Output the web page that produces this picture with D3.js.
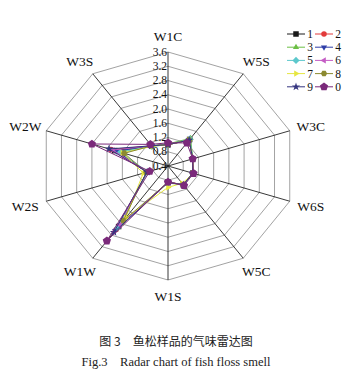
<!DOCTYPE html>
<html><head><meta charset="utf-8">
<script src="https://cdn.jsdelivr.net/npm/d3@7"></script>
<style>
html,body{margin:0;padding:0;background:#fff;}
svg{display:block;}
</style></head>
<body>
<svg id="c" width="361" height="387"></svg>
<script>
const axes = ["W1C","W5S","W3C","W6S","W5C","W1S","W1W","W2S","W2W","W3S"];
const tickValues = [0.4,0.8,1.2,1.6,2.0,2.4,2.8,3.2,3.6];
const seriesNames = ["1","2","3","4","5","6","7","8","9","0"];
const s1 = [1.00,1.32,1.05,1.05,1.05,0.85,2.50,0.95,1.80,1.10];
const s2 = [1.00,1.30,1.05,1.05,1.05,0.85,2.60,0.95,1.90,1.10];
const s3 = [1.02,1.36,1.05,1.05,1.05,0.88,2.40,0.95,1.70,1.10];
const s4 = [1.00,1.30,1.05,1.05,1.05,0.86,2.65,0.95,1.75,1.10];
const s5 = [1.00,1.33,1.05,1.05,1.08,0.85,2.55,0.93,1.65,1.08];
const s6 = [1.00,1.30,1.05,1.05,1.05,0.86,2.45,0.95,1.85,1.10];
const s7 = [1.00,1.30,1.05,1.07,1.00,1.00,2.20,1.05,1.60,1.08];
const s8 = [1.00,1.30,1.05,1.05,1.05,0.86,2.30,0.97,1.55,1.10];
const s9 = [1.00,1.30,1.05,1.05,1.05,0.86,2.70,0.95,1.95,1.10];
const s0 = [1.05,1.20,1.05,1.07,1.08,0.85,3.00,0.88,2.40,1.15];
const seriesValues = [s1,s2,s3,s4,s5,s6,s7,s8,s9,s0];
const colors = ["#1a1a1a","#e23b3b","#6cbf45","#2f3fa8","#5cc8cc","#c45cc4","#e6e640","#8c8a30","#35357f","#7b2a7b"];
const shapes = ["square","circle","up","down","diamond","left","right","hexagon","star","pentagon"];

const svg = d3.select("#c");
const cx = 168, cy = 166, Rx = 128, Ry = 114;
const r = d3.scaleLinear().domain([0.4,3.6]).range([0,1]);
const ang = d3.scaleLinear().domain([0, axes.length]).range([0, 2*Math.PI]);
function pt(i, v){ const a = ang(i), t = r(v); return [cx + Math.sin(a)*Rx*t, cy - Math.cos(a)*Ry*t]; }

const g = svg.append("g");
tickValues.forEach((tv) => {
  const pts = axes.map((_,i) => pt(i, tv));
  g.append("path").attr("d", d3.line()(pts) + "Z")
    .attr("fill","none").attr("stroke","#8a8a8a").attr("stroke-width",0.8);
});
axes.forEach((_,i) => {
  const p = pt(i, 3.6);
  g.append("line").attr("x1",cx).attr("y1",cy).attr("x2",p[0]).attr("y2",p[1])
    .attr("stroke","#222").attr("stroke-width",0.9);
});
axes.forEach((name,i) => {
  const a = ang(i);
  const x = cx + Math.sin(a)*(Rx+22), y = cy - Math.cos(a)*(Ry+16);
  g.append("text").attr("x",x).attr("y",y).attr("dy","0.35em")
    .attr("text-anchor","middle").attr("font-family","Liberation Serif, serif")
    .attr("font-size",13.5).attr("fill","#111").text(name);
});
tickValues.forEach((tv) => {
  const p = pt(0, tv);
  g.append("text").attr("x",p[0]-1).attr("y",p[1]).attr("dy","0.32em")
    .attr("text-anchor","end").attr("font-family","Liberation Serif, serif")
    .attr("font-size",11.5).attr("fill","#111").text(tv.toFixed(1));
});

function polyPath(n, rad, rot){
  const pts = d3.range(n).map(k => { const a = rot + k*2*Math.PI/n; return [Math.cos(a)*rad, Math.sin(a)*rad]; });
  return d3.line()(pts) + "Z";
}
function markerPath(shape, s){
  switch(shape){
    case "square": return d3.symbol(d3.symbolSquare, s*s)();
    case "circle": return d3.symbol(d3.symbolCircle, s*s*0.8)();
    case "up": return polyPath(3, s*0.65, -Math.PI/2);
    case "down": return polyPath(3, s*0.65, Math.PI/2);
    case "left": return polyPath(3, s*0.65, Math.PI);
    case "right": return polyPath(3, s*0.65, 0);
    case "diamond": return polyPath(4, s*0.65, -Math.PI/2);
    case "hexagon": return polyPath(6, s*0.58, 0);
    case "star": return d3.symbol(d3.symbolStar, s*s*0.7)();
    case "pentagon": return polyPath(5, s*0.62, -Math.PI/2);
  }
}

seriesValues.forEach((vals, si) => {
  const pts = vals.map((v,i) => pt(i, v));
  const sg = g.append("g");
  sg.append("path").attr("d", d3.line()(pts)+"Z").attr("fill","none")
    .attr("stroke", colors[si]).attr("stroke-width", 1);
  const sz = si === 9 ? 7 : 5.5;
  pts.forEach(p => {
    sg.append("path").attr("d", markerPath(shapes[si], sz))
      .attr("transform",`translate(${p[0]},${p[1]})`).attr("fill", colors[si]);
  });
});

const legX = [287, 315], legY0 = 34, legDY = 13.2;
seriesNames.forEach((nm, si) => {
  const col = si % 2, row = Math.floor(si/2);
  const x = legX[col], y = legY0 + row*legDY;
  const lg = svg.append("g");
  lg.append("line").attr("x1",x).attr("x2",x+18).attr("y1",y).attr("y2",y)
    .attr("stroke",colors[si]).attr("stroke-width",1);
  lg.append("path").attr("d", markerPath(shapes[si], si===9?7:5.5))
    .attr("transform",`translate(${x+9},${y})`).attr("fill",colors[si]);
  lg.append("text").attr("x", x+23).attr("y", y).attr("dy","0.35em")
    .attr("text-anchor","middle").attr("font-family","Liberation Serif, serif")
    .attr("font-size",11.5).attr("fill","#111").text(nm);
});

svg.append("text").attr("x",176).attr("y",342).attr("dy","0.35em").attr("text-anchor","middle")
  .attr("font-family","Noto Sans CJK SC, sans-serif").attr("font-size",12).attr("fill","#222")
  .text("图 3　鱼松样品的气味雷达图");
svg.append("text").attr("x",176).attr("y",362).attr("dy","0.35em").attr("text-anchor","middle")
  .attr("font-family","Liberation Serif, serif").attr("font-size",12.5).attr("fill","#222")
  .style("white-space","pre")
  .text("Fig.3    Radar chart of fish floss smell");
</script>
</body></html>
